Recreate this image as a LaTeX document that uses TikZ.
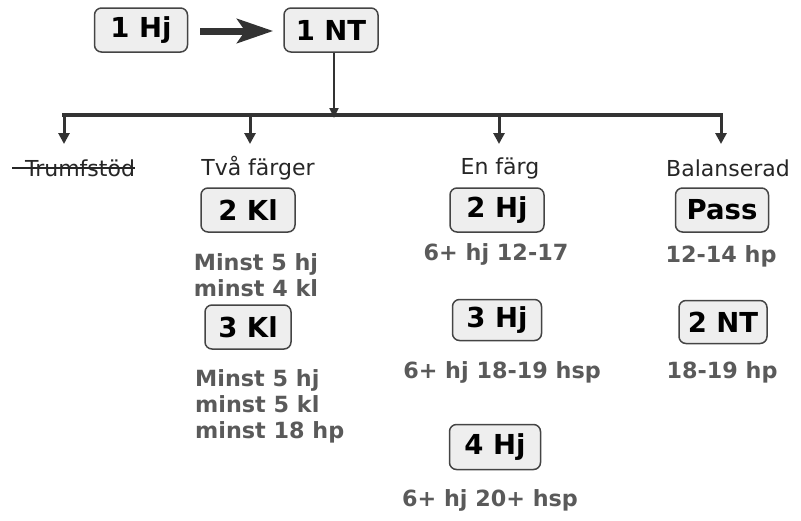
\documentclass[tikz,border=0pt]{standalone}
\usepackage{fontspec}
\setmainfont{DejaVu Sans}
\usetikzlibrary{arrows.meta}
\definecolor{boxfill}{HTML}{EEEEEE}
\definecolor{boxline}{HTML}{444444}
\definecolor{infogray}{HTML}{5A5A5A}
\definecolor{linegray}{HTML}{333333}
\tikzset{
  bid/.style={draw=boxline, line width=1.5pt, fill=boxfill, rounded corners=7pt,
    font=\fontsize{27.5}{32}\selectfont\bfseries, text=black, inner sep=0pt},
  info/.style={font=\fontsize{22.3}{26}\selectfont\bfseries, text=infogray, inner sep=0pt},
  cat/.style={font=\fontsize{22}{26}\selectfont, text=black!85, inner sep=0pt},
  drop/.style={draw=linegray, line width=3pt, -{Triangle[length=11pt,width=11pt]}},
}
\begin{document}
\begin{tikzpicture}[x=1pt,y=-1pt]
\useasboundingbox (0,0) rectangle (801,520);
% top boxes
\node[bid, minimum width=93pt, minimum height=44pt] (h1) at (141,30) {1 Hj};
\node[bid, minimum width=94pt, minimum height=44pt] (nt1) at (331,30) {1 NT};
\draw[draw=linegray, line width=7pt, -{Stealth[length=36pt,width=24pt,inset=8pt]}] (h1.east)+(12,1) coordinate (a0) (a0) -- ([xshift=-10pt]nt1.west |- a0) ;
% vertical
\coordinate (bar) at (334,115);
\draw[draw=linegray, line width=2pt, -{Triangle[length=10pt,width=9pt]}] (nt1.south -| bar) -- ([yshift=-3pt]bar);
% horizontal bar
\coordinate (b1) at (64,115);
\coordinate (b2) at (250,115);
\coordinate (b3) at (499,115);
\coordinate (b4) at (721,115);
\draw[draw=linegray, line width=4pt] ([xshift=-2pt]b1) -- ([xshift=2pt]b4);
% categories
\node[cat] (trumf) at (80,168) {Trumfstöd};
\node[cat] (tva) at (258,168) {Två färger};
\node[cat] (en) at (500,168) {En färg};
\node[cat] (bal) at (728,168) {Balanserad};
\draw[black!85, line width=1.5pt] (12,168) -- (trumf.east |- 0,168);
\draw[drop] (b1) -- ++(0,29);
\draw[drop] (b2) -- ++(0,29);
\draw[drop] (b3) -- ++(0,29);
\draw[drop] (b4) -- ++(0,29);
% two suits
\node[bid, minimum width=94pt, minimum height=44pt] (kl2) at (248,210) {2 Kl};
\node[info, align=center] (kl2i) at (256,275) {Minst 5 hj\\minst 4 kl};
\node[bid, minimum width=86pt, minimum height=44pt] (kl3) at (248,327) {3 Kl};
\node[info, align=left, anchor=west] (kl3i) at (195,406) {Minst 5 hj\\minst 5 kl\\minst 18 hp};
% one suit
\node[bid, minimum width=94pt, minimum height=44pt] (hj2) at (497,210) {2 Hj};
\node[info] (hj2i) at (496,254) {6+ hj 12-17};
\node[bid, minimum width=89pt, minimum height=41pt] (hj3) at (497,320) {3 Hj};
\node[info] (hj3i) at (502,372) {6+ hj 18-19 hsp};
\node[bid, minimum width=91pt, minimum height=45pt] (hj4) at (495,447) {4 Hj};
\node[info] (hj4i) at (490,500) {6+ hj 20+ hsp};
% balanced
\node[bid, minimum width=93pt, minimum height=44pt] (pass) at (722,210) {Pass};
\node[info] (passi) at (721,256) {12-14 hp};
\node[bid, minimum width=88pt, minimum height=43pt] (nt2) at (723,322) {2 NT};
\node[info] (nt2i) at (722,372) {18-19 hp};
\end{tikzpicture}
\end{document}
